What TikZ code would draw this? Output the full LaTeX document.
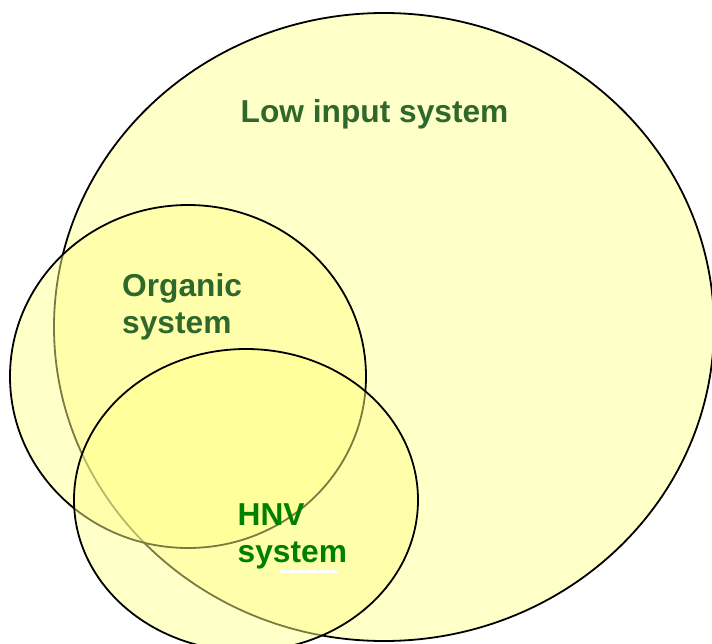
\documentclass[tikz,border=0pt]{standalone}
\usepackage{fontspec}
\setmainfont{Liberation Sans}
\definecolor{vennfill}{RGB}{255,255,140}
\definecolor{labeldark}{RGB}{47,104,45}
\definecolor{labelbright}{RGB}{0,128,0}
\begin{document}
\begin{tikzpicture}[x=1pt,y=-1pt,
  setshape/.style={draw=black,line width=1.8pt,fill=vennfill,fill opacity=0.48},
  setlabel/.style={anchor=base west,inner sep=0pt,align=left,
    font=\bfseries\fontsize{31.7}{36.5}\selectfont}]
\useasboundingbox (0,0) rectangle (712,643);
% outer set, then the two inner sets laid over it
\draw[setshape] (384,327) ellipse [x radius=330pt,y radius=314pt];
\draw[setshape] (188,376.5) ellipse [x radius=178pt,y radius=171.5pt];
\draw[setshape] (246,500) ellipse [x radius=172pt,y radius=151pt];
% labels (base anchor sits on the last line)
\node[setlabel,text=labeldark] (low) at (240.5,122) {Low input system};
\node[setlabel,text=labeldark] (org) at (122,333) {Organic\\system};
\node[setlabel,text=labelbright] (hnv) at (237.5,562) {HNV\\system};
\fill[white] (280,570) rectangle (337,572.5);
\end{tikzpicture}
\end{document}
